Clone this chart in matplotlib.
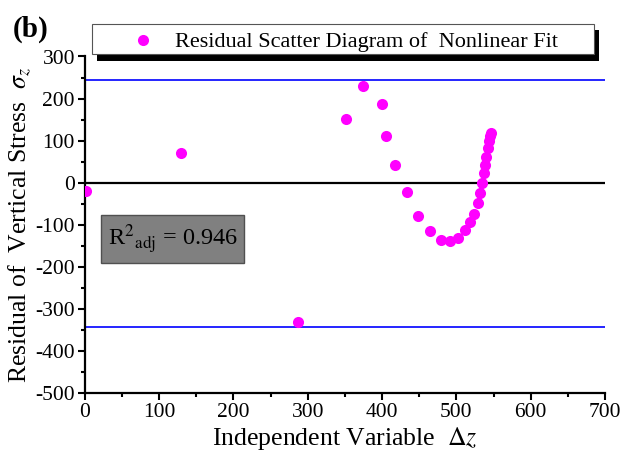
import matplotlib
matplotlib.use("Agg")
import matplotlib.pyplot as plt
from matplotlib.patches import Rectangle
from matplotlib.lines import Line2D
from matplotlib.ticker import MultipleLocator

# ---- data ----
dz = [2, 130, 287, 352, 375, 400, 406, 418, 433, 449, 465, 479, 492, 502,
      511, 518, 524, 529, 532, 535, 537, 539, 540.5, 542, 544, 545, 546]
residual = [-20, 70, -332, 151, 231, 188, 112, 42, -22, -79, -116, -136, -139,
            -131, -113, -94, -74, -49, -24, 0, 22, 42, 62, 82, 100, 112, 119]
upper_bound = 243
lower_bound = -342
x_ticks = [0, 100, 200, 300, 400, 500, 600, 700]
y_ticks = [-500, -400, -300, -200, -100, 0, 100, 200, 300]
legend_label = "Residual Scatter Diagram of  Nonlinear Fit"
r2_text = r"R$^{2}{}_{\mathrm{adj}}$ = 0.946"

plt.rcParams['font.family'] = ['Liberation Serif', 'DejaVu Serif']
plt.rcParams['mathtext.fontset'] = 'stix'
plt.rcParams['axes.unicode_minus'] = False

W, H = 621, 453
fig = plt.figure(figsize=(W / 100, H / 100), dpi=100)

def fx(px):
    return px / W

def fy(py):
    return 1 - py / H

ax = fig.add_axes([fx(84.7), fy(393), fx(605) - fx(84.7), fy(56.5) - fy(393)])

ax.axhline(upper_bound, color='blue', lw=1.2, zorder=1)
ax.axhline(lower_bound, color='blue', lw=1.2, zorder=1)
ax.axhline(0, color='black', lw=1.6, zorder=1)
ax.plot(dz, residual, 'o', color='#FF00FF', ms=8, mec='none', zorder=3)

ax.set_xlim(0, 700)
ax.set_ylim(-500, 300)
ax.set_xticks(x_ticks)
ax.set_yticks(y_ticks)
ax.xaxis.set_minor_locator(MultipleLocator(50))
ax.yaxis.set_minor_locator(MultipleLocator(50))
ax.tick_params(which='major', direction='out', length=5, width=1.5, labelsize=15.5, pad=2)
ax.tick_params(which='minor', direction='out', length=3, width=1.5)
for s in ['top', 'right']:
    ax.spines[s].set_visible(False)
for s in ['left', 'bottom']:
    ax.spines[s].set_linewidth(1.6)

ax.set_xlabel(r"Independent Variable  $\Delta z$", fontsize=18.5, labelpad=2)
ax.set_ylabel(r"Residual of  Vertical Stress  $\sigma_z$", fontsize=18.5, labelpad=2)

# (b) label
fig.text(fx(13), fy(37), "(b)", fontsize=21, fontweight='bold', ha='left', va='baseline')

# legend box with black shadow
fig.patches.append(Rectangle((fx(97), fy(61)), fx(599) - fx(97), fy(30) - fy(61),
                             transform=fig.transFigure, facecolor='black',
                             edgecolor='none', zorder=5))
fig.patches.append(Rectangle((fx(92), fy(54)), fx(594) - fx(92), fy(24) - fy(54),
                             transform=fig.transFigure, facecolor='white',
                             edgecolor='#555555', lw=0.8, zorder=6))
fig.lines.append(Line2D([fx(143)], [fy(39.5)], transform=fig.transFigure, marker='o',
                        color='#FF00FF', ms=8, mec='none', ls='none', zorder=7))
fig.text(fx(175), fy(39.5), legend_label, fontsize=16, ha='left', va='center_baseline', zorder=7)

# R^2 box
fig.patches.append(Rectangle((fx(100.7), fy(262.7)), fx(244.3) - fx(100.7), fy(215) - fy(262.7),
                             transform=fig.transFigure, facecolor='#808080',
                             edgecolor='#505050', lw=1.0, zorder=6))
fig.text(fx(172.5), fy(239), r2_text, fontsize=17.5, ha='center', va='center', zorder=7)

fig.savefig("out.png", dpi=100)
